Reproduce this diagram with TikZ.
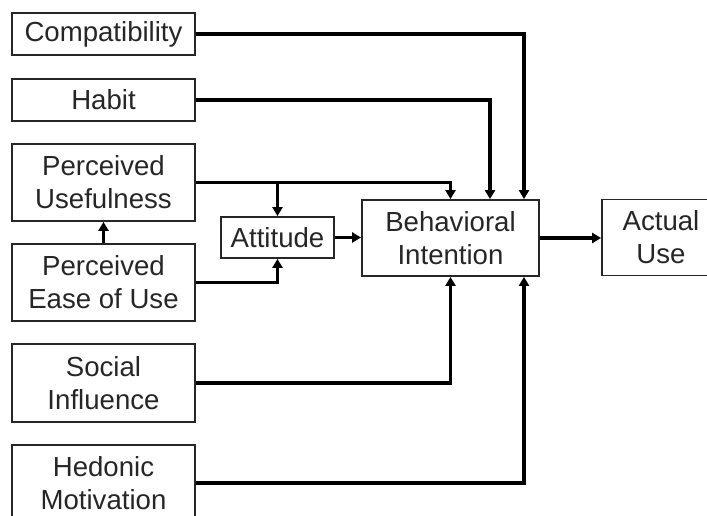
\documentclass[tikz,border=0pt]{standalone}
\usepackage{fontspec}
\setmainfont{Liberation Sans}
\usetikzlibrary{arrows.meta}
\begin{document}
\begin{tikzpicture}[x=1pt,y=-1pt,
  box/.style={draw=black!85,line width=1.8pt,rectangle,inner sep=0pt,align=center,
    font=\fontsize{27.6}{33}\selectfont,text=black!85},
  arr/.style={line width=3.2pt,draw=black,-{Triangle[length=9pt,width=10pt]}}]
\useasboundingbox (0,0) rectangle (707,516);
\node[box,minimum width=183pt,minimum height=42pt] (C) at (103.5,34) {Compatibility};
\node[box,minimum width=183pt,minimum height=42pt] (H) at (103.5,100) {Habit};
\node[box,minimum width=183pt,minimum height=77pt] (PU) at (103.5,182.5) {Perceived\\Usefulness};
\node[box,minimum width=183pt,minimum height=77pt] (PE) at (103.5,282.5) {Perceived\\Ease of Use};
\node[box,minimum width=183pt,minimum height=78pt] (SI) at (103.5,383) {Social\\Influence};
\node[box,minimum width=183pt,minimum height=76pt] (HM) at (103.5,483) {Hedonic\\Motivation};
\node[box,minimum width=113pt,minimum height=41pt] (A) at (277.5,237.5) {Attitude};
\node[box,minimum width=177pt,minimum height=76pt] (BI) at (450.5,238) {Behavioral\\Intention};
\node[box,minimum width=118pt,minimum height=76pt] (AU) at (661,237.5) {Actual\\Use};
\draw[arr] (C.east) -| ([xshift=73.5pt]BI.north);
\draw[arr] (H.east) -| ([xshift=39.5pt]BI.north);
\draw[arr] (PU.east) -| (BI.north);
\draw[arr] (A.north |- PU.east) -- (A.north);
\draw[arr] (PE.east) -| (A.south);
\draw[arr] (PE.north) -- (PU.south);
\draw[arr] (A.east) -- (A.east -| BI.west);
\draw[arr] (SI.east) -| (BI.south);
\draw[arr] (HM.east) -| ([xshift=73.5pt]BI.south);
\draw[arr] (BI.east) -- (BI.east -| AU.west);
\end{tikzpicture}
\end{document}
